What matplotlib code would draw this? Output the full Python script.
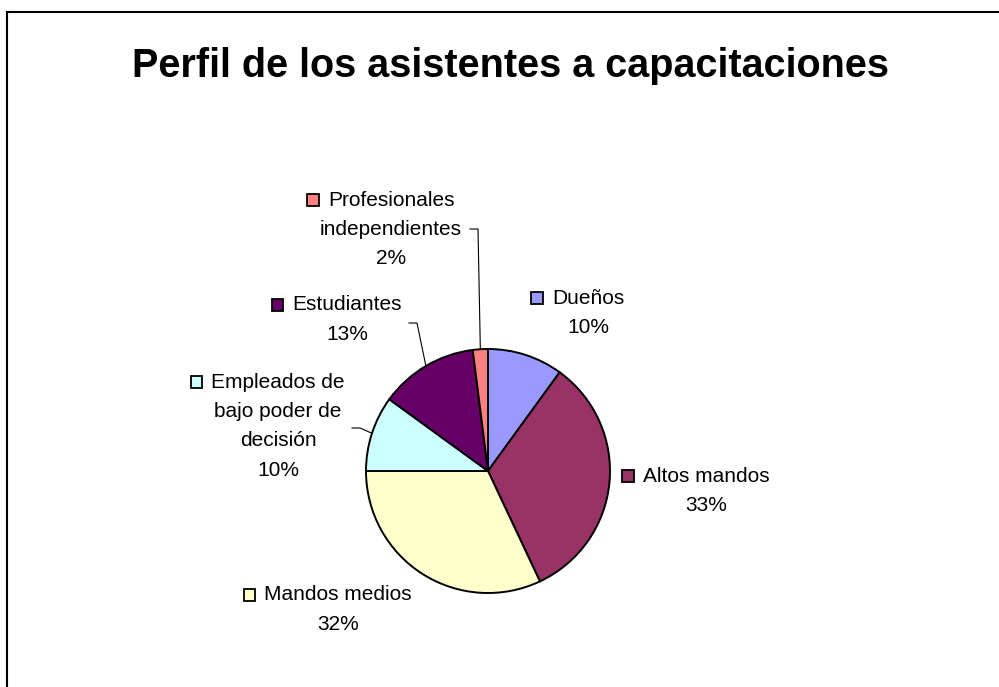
import numpy as np
import matplotlib
matplotlib.use("Agg")
import matplotlib.pyplot as plt
from matplotlib.patches import Rectangle

# ---- data ----
categories = ["Dueños", "Altos mandos", "Mandos medios",
              "Empleados de\nbajo poder de\ndecisión", "Estudiantes",
              "Profesionales\nindependientes"]
values = [10, 33, 32, 10, 13, 2]
colors = ["#9999FF", "#993366", "#FFFFCC", "#CCFFFF", "#660066", "#FF8080"]
title = "Perfil de los asistentes a capacitaciones"

# ---- layout (pixel coordinates, y measured from top) ----
W, H = 999, 687
cx, cy, R = 488, 471, 122
label_pos = [(588, 298), (706, 476), (338, 595), (278, 382), (347, 305), (391, 200)]
leader_start = [None, None, None, (352, 428), (409, 323), (470, 229)]
line_h = 29.5
FONT = "Liberation Sans"

fig = plt.figure(figsize=(W / 100, H / 100), dpi=100)
ax = fig.add_axes([0, 0, 1, 1])

def Y(y):
    return H - y

wedges, _ = ax.pie(values, colors=colors, startangle=90, counterclock=False,
                   center=(cx, Y(cy)), radius=R, frame=False,
                   wedgeprops=dict(edgecolor="black", linewidth=1.4))
ax.set_xlim(0, W)
ax.set_ylim(0, H)
ax.set_aspect("auto")
ax.axis("off")

# frame
ax.add_patch(Rectangle((7, Y(H + 20)), W + 20, (H + 20) - 12, fill=False,
                       edgecolor="black", linewidth=1.5, clip_on=True))

ax.text(511, Y(66), title, ha="center", va="center", fontsize=28.5,
        fontweight="bold", family=FONT)

total = sum(values)
fig.canvas.draw()
renderer = fig.canvas.get_renderer()
cum = 0
for i, (cat, v) in enumerate(zip(categories, values)):
    mid = (cum + v / 2) / total * 2 * np.pi
    cum += v
    ex, ey = cx + R * np.sin(mid), cy - R * np.cos(mid)
    lines = cat.split("\n") + [f"{v}%"]
    lx, ly = label_pos[i]
    first = None
    for j, ln in enumerate(lines):
        t = ax.text(lx, Y(ly + j * line_h), ln, ha="center", va="center",
                    fontsize=15, family=FONT, color="black")
        if j == 0:
            first = t
    bb = first.get_window_extent(renderer=renderer)
    x0 = bb.x0
    sq = 11.5
    ax.add_patch(Rectangle((x0 - 9 - sq, Y(ly) - sq / 2), sq, sq,
                           facecolor=colors[i], edgecolor="black", linewidth=1.3))
    if leader_start[i] is not None:
        sx, sy = leader_start[i]
        ax.plot([sx, sx + 8, ex], [Y(sy), Y(sy), Y(ey)], color="black", lw=0.8)

fig.savefig("out.png", dpi=100)
